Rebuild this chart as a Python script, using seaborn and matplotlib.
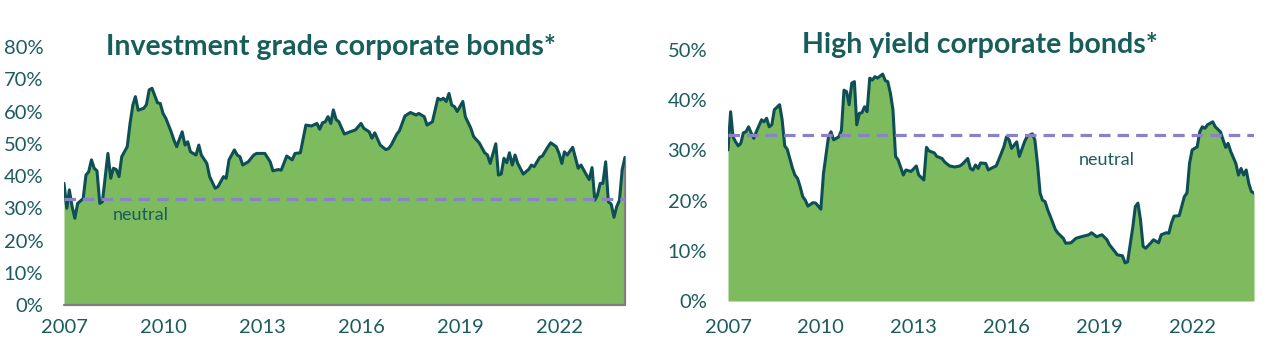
import matplotlib
matplotlib.use("Agg")
import matplotlib.pyplot as plt
import seaborn as sns
import pandas as pd

sns.set_theme(style="white")
plt.rcParams['font.family'] = ['Lato', 'DejaVu Sans']

# ---------------- data ----------------
ig_dates = [
    "2007-01", "2007-02", "2007-03", "2007-04", "2007-05", "2007-06", "2007-08", "2007-09", "2007-10", "2007-11", "2007-12",
    "2008-01", "2008-02", "2008-03", "2008-05", "2008-06", "2008-07", "2008-08", "2008-09", "2008-10", "2008-12",
    "2009-01", "2009-02", "2009-03", "2009-04", "2009-06", "2009-07", "2009-08", "2009-09", "2009-11", "2009-12",
    "2010-01", "2010-02", "2010-04", "2010-05", "2010-06", "2010-08", "2010-09", "2010-10", "2010-11",
    "2011-01", "2011-02", "2011-03", "2011-05", "2011-06", "2011-08", "2011-09", "2011-11", "2011-12",
    "2012-01", "2012-03", "2012-04", "2012-05", "2012-06", "2012-08", "2012-10", "2012-11",
    "2013-02", "2013-04", "2013-05", "2013-07", "2013-08", "2013-10", "2013-12",
    "2014-01", "2014-03", "2014-05", "2014-07", "2014-09", "2014-10", "2014-11", "2014-12",
    "2015-01", "2015-02", "2015-03", "2015-04", "2015-05", "2015-07", "2015-09", "2015-11",
    "2016-01", "2016-02", "2016-04", "2016-05", "2016-06", "2016-08", "2016-10", "2016-11", "2016-12",
    "2017-02", "2017-03", "2017-05", "2017-07", "2017-09", "2017-10", "2017-12",
    "2018-01", "2018-03", "2018-04", "2018-05", "2018-06", "2018-07", "2018-08", "2018-09", "2018-10", "2018-11", "2018-12",
    "2019-02", "2019-03", "2019-05", "2019-06", "2019-08", "2019-10", "2019-11", "2019-12",
    "2020-02", "2020-03", "2020-04", "2020-05", "2020-06", "2020-07", "2020-08", "2020-09", "2020-10", "2020-12",
    "2021-02", "2021-03", "2021-04", "2021-06", "2021-07", "2021-09", "2021-10", "2021-12",
    "2022-01", "2022-02", "2022-03", "2022-04", "2022-06", "2022-08", "2022-09", "2022-11", "2022-12",
    "2023-01", "2023-02", "2023-03", "2023-04", "2023-05", "2023-06", "2023-07", "2023-08", "2023-09", "2023-10", "2023-11", "2023-12",
    "2024-01",
]
ig_values = [
    37.7, 30.0, 35.7, 30.5, 26.9, 31.5, 33.0, 40.3, 41.3, 45.0, 42.4,
    41.6, 31.5, 32.0, 47.0, 39.3, 42.4, 42.0, 39.8, 46.0, 49.1,
    56.3, 62.0, 64.6, 60.4, 61.0, 62.1, 66.7, 67.2, 62.7, 62.5,
    59.4, 57.9, 53.7, 51.2, 49.1, 53.7, 49.6, 50.6, 47.5,
    46.5, 49.6, 46.5, 43.9, 39.8, 36.2, 36.7, 39.8, 39.3,
    45.0, 48.1, 46.5, 46.0, 43.4, 44.4, 46.5, 47.0,
    47.0, 44.4, 41.6, 42.0, 41.8, 46.2, 45.0,
    47.0, 47.2, 55.8, 55.5, 56.3, 54.5, 56.5, 56.8,
    58.4, 56.3, 60.5, 57.5, 56.8, 53.0, 53.7, 54.3,
    56.3, 54.8, 53.7, 51.7, 53.4, 49.6, 48.2, 48.5, 49.6,
    53.0, 54.0, 58.6, 59.7, 58.9, 59.4, 58.4,
    55.8, 56.8, 60.5, 64.1, 63.6, 64.1, 63.1, 65.6, 62.0, 61.5, 60.0,
    63.1, 58.4, 54.8, 52.2, 50.3, 47.2, 46.5, 43.9,
    50.0, 40.3, 40.6, 45.5, 44.1, 47.2, 43.4, 46.5, 43.9, 40.6,
    42.1, 43.4, 42.9, 45.8, 46.2, 49.1, 50.3, 49.1,
    47.0, 43.9, 47.5, 46.5, 48.9, 42.4, 43.4, 40.3, 38.9,
    42.6, 32.5, 34.0, 37.7, 37.7, 44.4, 32.0, 31.3, 27.2, 30.5, 32.5, 42.0,
    45.8,
]

hy_dates = [
    "2007-01", "2007-02", "2007-03", "2007-04", "2007-05", "2007-06", "2007-07", "2007-08", "2007-09", "2007-10", "2007-11", "2007-12",
    "2008-02", "2008-03", "2008-04", "2008-05", "2008-06", "2008-07", "2008-09", "2008-10", "2008-11", "2008-12",
    "2009-02", "2009-03", "2009-04", "2009-05", "2009-06", "2009-07", "2009-08", "2009-10", "2009-11", "2009-12",
    "2010-01", "2010-02", "2010-04", "2010-05", "2010-06", "2010-08", "2010-09", "2010-10", "2010-11", "2010-12",
    "2011-01", "2011-02", "2011-03", "2011-04", "2011-05", "2011-06", "2011-07", "2011-08", "2011-09", "2011-10", "2011-11",
    "2012-01", "2012-02", "2012-03", "2012-04", "2012-05", "2012-06", "2012-07", "2012-09", "2012-10", "2012-12",
    "2013-02", "2013-03", "2013-05", "2013-06", "2013-07", "2013-09", "2013-10", "2013-12",
    "2014-01", "2014-03", "2014-05", "2014-07", "2014-08", "2014-10", "2014-11", "2014-12",
    "2015-01", "2015-02", "2015-03", "2015-05", "2015-06", "2015-07", "2015-09", "2015-10", "2015-12",
    "2016-01", "2016-02", "2016-03", "2016-05", "2016-06", "2016-08", "2016-09", "2016-11", "2016-12",
    "2017-01", "2017-02", "2017-03", "2017-04", "2017-05", "2017-06", "2017-08", "2017-09", "2017-11", "2017-12",
    "2018-02", "2018-04", "2018-06", "2018-09", "2018-10", "2018-12",
    "2019-02", "2019-04", "2019-05", "2019-07", "2019-08", "2019-10", "2019-11", "2019-12",
    "2020-02", "2020-03", "2020-04", "2020-05", "2020-06", "2020-07", "2020-09", "2020-10", "2020-12",
    "2021-01", "2021-03", "2021-04", "2021-05", "2021-06", "2021-08", "2021-10", "2021-11", "2021-12",
    "2022-01", "2022-03", "2022-04", "2022-05", "2022-06", "2022-07", "2022-09", "2022-10", "2022-12",
    "2023-01", "2023-02", "2023-03", "2023-04", "2023-06", "2023-07", "2023-08", "2023-09", "2023-10", "2023-11", "2023-12",
    "2024-01",
]
hy_values = [
    30.1, 37.7, 32.7, 31.7, 30.9, 31.4, 33.5, 33.7, 34.7, 33.5, 32.4, 33.7,
    36.1, 35.7, 36.4, 34.7, 35.1, 38.1, 39.1, 36.1, 30.9, 30.2,
    26.4, 25.1, 24.4, 22.8, 20.8, 20.1, 18.9, 19.6, 19.5, 18.9,
    18.3, 25.4, 32.7, 33.7, 32.1, 32.7, 34.0, 42.0, 41.7, 39.1,
    43.4, 43.7, 35.1, 37.4, 37.5, 38.7, 37.7, 44.4, 44.0, 44.7, 44.4,
    45.2, 43.9, 43.7, 41.4, 38.1, 28.8, 28.1, 25.1, 26.1, 25.8,
    26.9, 25.1, 24.1, 30.6, 29.9, 29.5, 28.8, 28.4,
    27.7, 26.9, 26.7, 26.9, 27.3, 28.4, 26.4, 26.1,
    27.1, 26.4, 27.5, 27.4, 26.1, 26.4, 26.9, 28.1, 30.7,
    32.7, 32.1, 30.4, 31.7, 28.8, 31.7, 32.8, 33.3, 32.1,
    27.4, 21.5, 20.1, 19.8, 18.2, 16.9, 14.2, 13.5, 12.5, 11.5,
    11.6, 12.5, 12.8, 13.2, 13.6, 12.8,
    13.2, 12.2, 11.2, 9.9, 9.2, 9.0, 7.6, 7.8,
    14.8, 18.8, 19.5, 16.2, 10.9, 10.5, 11.6, 12.2, 11.6,
    13.2, 13.6, 13.5, 15.5, 16.9, 17.0, 20.8, 21.5, 27.4,
    30.1, 30.7, 33.7, 34.7, 34.4, 35.1, 35.7, 34.7, 33.7,
    32.1, 30.6, 31.4, 29.8, 27.4, 25.1, 26.4, 25.1, 26.1, 23.4, 21.8,
    21.5,
]

neutral_level = 33
tick_years = [2007, 2010, 2013, 2016, 2019, 2022]
titles = ["Investment grade corporate bonds*", "High yield corporate bonds*"]
y_max = [80, 50]

# ---------------- style ----------------
FILL = "#7DBB5E"
LINE = "#0E4F55"
TEXT = "#1D5C5E"
TITLE = "#175E5A"
NEUTRAL = "#8A82C6"
EDGE = "#7F7F7F"

fig = plt.figure(figsize=(12.8, 3.61), dpi=100)
W, H = 1280, 361
ax1 = fig.add_axes([64 / W, 1 - 305 / H, 561 / W, 258 / H])
ax2 = fig.add_axes([728 / W, 1 - 301 / H, 526 / W, 251 / H])

x_start = pd.Timestamp("2007-01-01")
x_end = pd.Timestamp("2024-01-01")

series = [
    (ax1, pd.to_datetime(ig_dates), ig_values),
    (ax2, pd.to_datetime(hy_dates), hy_values),
]

for i, (ax, d, v) in enumerate(series):
    df = pd.DataFrame({"date": d, "value": v})
    ax.fill_between(df["date"], df["value"], 0, color=FILL, lw=0, zorder=1)
    sns.lineplot(data=df, x="date", y="value", ax=ax, color=LINE, lw=2.2, zorder=3)
    ax.axhline(neutral_level, color=NEUTRAL, lw=2.3, ls=(0, (3.6, 2.2)), zorder=4)
    ax.set_xlim(x_start, x_end)
    ax.set_ylim(0, y_max[i])
    ax.set_xlabel("")
    ax.set_ylabel("")
    ax.set_xticks([pd.Timestamp(f"{y}-01-01") for y in tick_years])
    ax.set_xticklabels([str(y) for y in tick_years])
    yt = list(range(0, y_max[i] + 1, 10))
    ax.set_yticks(yt)
    ax.set_yticklabels([f"{t}%" for t in yt])
    ax.tick_params(axis="both", length=0, labelsize=14.5, colors=TEXT)
    ax.tick_params(axis="y", pad=15)
    ax.tick_params(axis="x", pad=10 if i == 0 else 13)
    ax.grid(False)
    ax.set_facecolor("none")
    for s in ax.spines.values():
        s.set_visible(False)

# grey outline of the left area (bottom and right edge)
ax1.plot([x_start, x_end], [0, 0], color=EDGE, lw=1.6, zorder=2, clip_on=False)
ax1.plot([pd.Timestamp(ig_dates[-1])] * 2, [0, ig_values[-1]], color=EDGE, lw=1.6, zorder=2, clip_on=False)

ax1.text(pd.Timestamp("2009-05-01"), 27.9, "neutral", ha="center", va="center", fontsize=13, color=TEXT)
ax2.text(pd.Timestamp("2019-04-01"), 28.1, "neutral", ha="center", va="center", fontsize=13, color=TEXT)

fig.text(331 / W, 1 - 47 / H, titles[0], ha="center", va="center", fontsize=20.5, fontweight="bold", color=TITLE)
fig.text(980 / W, 1 - 45 / H, titles[1], ha="center", va="center", fontsize=20.5, fontweight="bold", color=TITLE)

fig.savefig("out.png", dpi=100)
